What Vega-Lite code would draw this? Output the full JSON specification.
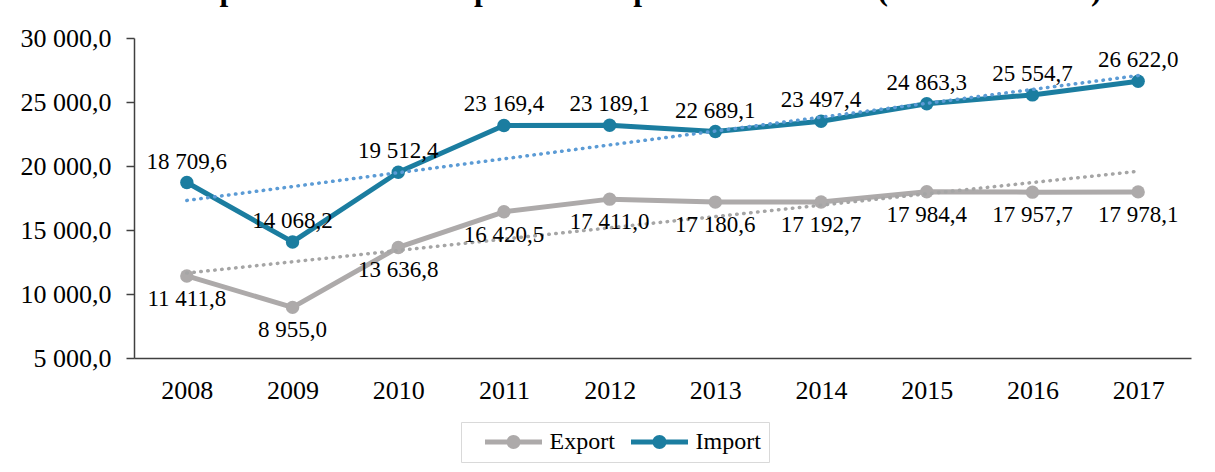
{
  "$schema": "https://vega.github.io/schema/vega-lite/v6.json",
  "width": 1057,
  "height": 320,
  "autosize": {"type": "none"},
  "padding": {"left": 134, "top": 38, "right": 24, "bottom": 114},
  "background": "white",
  "config": {
    "locale": {"number": {"decimal": ",", "thousands": " ", "grouping": [3], "currency": ["", ""]}},
    "view": {"stroke": null},
    "font": "Liberation Serif"
  },
  "title": {
    "text": "Chart 8: Development of SMEs' export and import in 2008-2017 (in EUR million)",
    "anchor": "start",
    "frame": "group",
    "dx": -128,
    "dy": 18,
    "offset": 12,
    "baseline": "alphabetic",
    "font": "Liberation Serif",
    "fontSize": 31.5,
    "fontWeight": "bold",
    "color": "black"
  },
  "datasets": {
    "main": [
      {"year": "2008", "series": "Export", "value": 11411.8},
      {"year": "2009", "series": "Export", "value": 8955.0},
      {"year": "2010", "series": "Export", "value": 13636.8},
      {"year": "2011", "series": "Export", "value": 16420.5},
      {"year": "2012", "series": "Export", "value": 17411.0},
      {"year": "2013", "series": "Export", "value": 17180.6},
      {"year": "2014", "series": "Export", "value": 17192.7},
      {"year": "2015", "series": "Export", "value": 17984.4},
      {"year": "2016", "series": "Export", "value": 17957.7},
      {"year": "2017", "series": "Export", "value": 17978.1},
      {"year": "2008", "series": "Import", "value": 18709.6},
      {"year": "2009", "series": "Import", "value": 14068.2},
      {"year": "2010", "series": "Import", "value": 19512.4},
      {"year": "2011", "series": "Import", "value": 23169.4},
      {"year": "2012", "series": "Import", "value": 23189.1},
      {"year": "2013", "series": "Import", "value": 22689.1},
      {"year": "2014", "series": "Import", "value": 23497.4},
      {"year": "2015", "series": "Import", "value": 24863.3},
      {"year": "2016", "series": "Import", "value": 25554.7},
      {"year": "2017", "series": "Import", "value": 26622.0}
    ],
    "trend": [
      {"year": "2008", "series": "Export", "value": 11632.7},
      {"year": "2017", "series": "Export", "value": 19592.0},
      {"year": "2008", "series": "Import", "value": 17309.6},
      {"year": "2017", "series": "Import", "value": 27065.4}
    ]
  },
  "encoding": {
    "x": {
      "field": "year",
      "type": "ordinal",
      "scale": {"type": "point", "padding": 0.5, "domain": ["2008","2009","2010","2011","2012","2013","2014","2015","2016","2017"]},
      "axis": {
        "title": null,
        "labelAngle": 0,
        "ticks": false,
        "tickSize": 0,
        "labelPadding": 40,
        "labelBaseline": "alphabetic",
        "labelFont": "Liberation Serif",
        "labelFontSize": 26,
        "labelColor": "black",
        "domainColor": "#404040",
        "domainWidth": 1.5,
        "grid": false
      }
    },
    "y": {
      "field": "value",
      "type": "quantitative",
      "scale": {"domain": [5000, 30000], "nice": false, "zero": false},
      "axis": {
        "title": null,
        "values": [5000, 10000, 15000, 20000, 25000, 30000],
        "format": ",.1f",
        "grid": false,
        "tickSize": 8,
        "tickColor": "#404040",
        "tickWidth": 1.5,
        "domainColor": "#404040",
        "domainWidth": 1.5,
        "labelPadding": 15,
        "labelFont": "Liberation Serif",
        "labelFontSize": 26,
        "labelColor": "black"
      }
    }
  },
  "layer": [
    {
      "data": {"name": "main"},
      "mark": {"type": "line", "strokeWidth": 5, "strokeJoin": "round"},
      "encoding": {
        "color": {
          "field": "series",
          "type": "nominal",
          "scale": {"domain": ["Export", "Import"], "range": ["#ADAAAA", "#1B7DA0"]},
          "legend": {
            "orient": "none",
            "legendX": 327,
            "legendY": 384,
            "direction": "horizontal",
            "title": null,
            "symbolType": "M-2.85,-0.25 L2.85,-0.25 L2.85,0.25 L-2.85,0.25 Z M-0.7,0 A0.7,0.7 0 1,1 0.7,0 A0.7,0.7 0 1,1 -0.7,0 Z",
            "symbolSize": 400,
            "symbolOffset": 32.5,
            "symbolStrokeWidth": 0,
            "labelOffset": 24,
            "columnPadding": 0,
            "padding": 8,
            "strokeColor": "#D9D9D9",
            "labelFont": "Liberation Serif",
            "labelFontSize": 24,
            "labelColor": "black",
            "encode": {
              "symbols": {"update": {"fill": {"field": "value", "scale": "color"}, "stroke": {"value": "transparent"}, "opacity": {"value": 1}}}
            }
          }
        }
      }
    },
    {
      "data": {"name": "main"},
      "mark": {"type": "point", "filled": true, "size": 180, "opacity": 1},
      "encoding": {
        "color": {"field": "series", "type": "nominal"}
      }
    },
    {
      "data": {"name": "trend"},
      "transform": [{"filter": "datum.series === 'Import'"}],
      "mark": {"type": "line", "color": "#5B9BD5", "strokeWidth": 3.5, "strokeDash": [0.5, 6.5], "strokeCap": "round"},
      "encoding": {}
    },
    {
      "data": {"name": "trend"},
      "transform": [{"filter": "datum.series === 'Export'"}],
      "mark": {"type": "line", "color": "#A5A5A5", "strokeWidth": 3.5, "strokeDash": [0.5, 6.5], "strokeCap": "round"},
      "encoding": {}
    },
    {
      "data": {"name": "main"},
      "transform": [{"filter": "datum.series === 'Import'"}],
      "mark": {"type": "text", "font": "Liberation Serif", "fontSize": 23, "baseline": "alphabetic", "dy": -14, "color": "black"},
      "encoding": {"text": {"field": "value", "type": "quantitative", "format": ",.1f"}}
    },
    {
      "data": {"name": "main"},
      "transform": [{"filter": "datum.series === 'Export'"}],
      "mark": {"type": "text", "font": "Liberation Serif", "fontSize": 23, "baseline": "alphabetic", "dy": 30, "color": "black"},
      "encoding": {"text": {"field": "value", "type": "quantitative", "format": ",.1f"}}
    }
  ]
}
